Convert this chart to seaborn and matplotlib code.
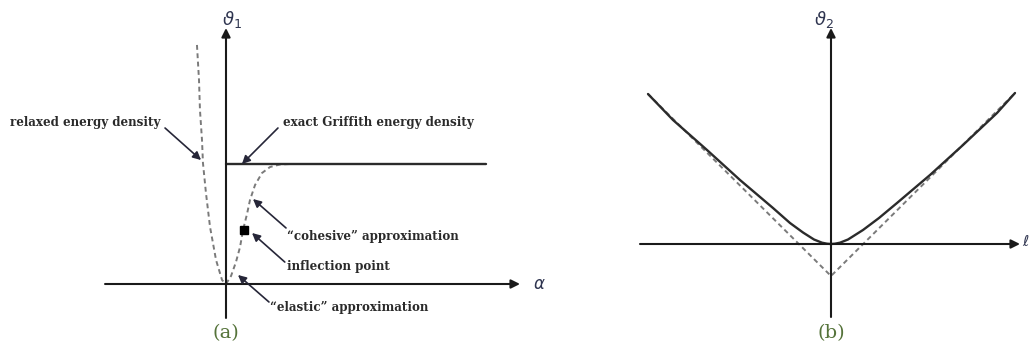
import numpy as np
import pandas as pd
import matplotlib
matplotlib.use("Agg")
import matplotlib.pyplot as plt
import seaborn as sns

# panel (a): energy densities vs alpha (units, Griffith level = 1)
relaxed_x = [-0.242, -0.225, -0.217, -0.200, -0.192, -0.167, -0.133, -0.083, -0.033, 0.0]
relaxed_y = [1.992, 1.700, 1.450, 1.200, 1.008, 0.758, 0.475, 0.200, 0.033, 0.0]
cohesive_x = [0.0, 0.042, 0.083, 0.117, 0.142, 0.175, 0.200, 0.242, 0.300, 0.367, 0.450, 0.533]
cohesive_y = [0.0, 0.067, 0.183, 0.308, 0.450, 0.583, 0.700, 0.825, 0.925, 0.975, 0.996, 1.0]
griffith_x = [0.0, 2.167]
griffith_y = [1.0, 1.0]
inflection = (0.15, 0.45)

# panel (b)
smooth_x = [-1.83, -1.58, -1.24, -0.91, -0.58, -0.41, -0.28, -0.17, -0.09, -0.04, 0.0,
            0.04, 0.09, 0.17, 0.32, 0.48, 0.66, 0.99, 1.32, 1.66, 1.84]
smooth_y = [1.50, 1.24, 0.94, 0.64, 0.36, 0.21, 0.115, 0.045, 0.013, 0.003, 0.0,
            0.003, 0.013, 0.045, 0.14, 0.26, 0.41, 0.69, 0.99, 1.31, 1.51]
vee_x = [-1.83, 0.0, 1.84]
vee_y = [1.50, -0.32, 1.51]

# annotations: text, text position, arrow start, arrow tip
notes = [
    ("relaxed energy density", (-1.80, 1.342), (-0.508, 1.30), (-0.208, 1.033)),
    ("exact Griffith energy density", (0.475, 1.342), (0.433, 1.30), (0.133, 1.0)),
    ("\u201ccohesive\u201d approximation", (0.508, 0.392), (0.50, 0.467), (0.225, 0.708)),
    ("inflection point", (0.508, 0.142), (0.49, 0.183), (0.217, 0.425)),
    ("\u201celastic\u201d approximation", (0.367, -0.20), (0.358, -0.15), (0.10, 0.075)),
]

sns.set_style("white")
W, H = 1029, 351
fig = plt.figure(figsize=(W / 100, H / 100), dpi=100)

ax_a = fig.add_axes([0, 0, 560 / W, 1])
ax_b = fig.add_axes([580 / W, 0, 449 / W, 1])

ax_a.set_xlim(-226 / 120, (560 - 226) / 120)
ax_a.set_ylim(-(H - 284) / 120, 284 / 120)
ax_b.set_xlim((580 - 831) / 100, (1029 - 831) / 100)
ax_b.set_ylim(-(H - 244) / 100, 244 / 100)

dash = dict(color="#7a7a7a", linewidth=1.4, linestyle=(0, (2.5, 1.8)))
solid = dict(color="#2b2b2b", linewidth=1.7)


def axis_arrow(ax, start, end):
    ax.annotate("", xy=end, xytext=start,
                arrowprops=dict(arrowstyle="-|>", color="#1a1a1a", lw=1.5,
                                mutation_scale=13, shrinkA=0, shrinkB=0))


# ---- panel (a)
axis_arrow(ax_a, (-1.008, 0), (2.45, 0))
axis_arrow(ax_a, (0, -0.283), (0, 2.133))
sns.lineplot(x=relaxed_x, y=relaxed_y, sort=False, estimator=None, ax=ax_a, **dash)
sns.lineplot(x=cohesive_x, y=cohesive_y, sort=False, estimator=None, ax=ax_a, **dash)
sns.lineplot(x=griffith_x, y=griffith_y, sort=False, estimator=None, ax=ax_a, **solid)
ax_a.plot(*inflection, marker="s", color="black", markersize=6, zorder=5)

for label, txt_pos, a_start, a_tip in notes:
    ax_a.text(txt_pos[0], txt_pos[1], label, family="DejaVu Serif", fontsize=8.6,
              fontweight="bold", color="#2a2a2a", ha="left", va="center")
    ax_a.annotate("", xy=a_tip, xytext=a_start,
                  arrowprops=dict(arrowstyle="-|>", color="#262638", lw=1.2,
                                  mutation_scale=12, shrinkA=0, shrinkB=0))

ax_a.text(-0.03, 2.2, r"$\vartheta_1$", fontsize=13, color="#2f3550", ha="left", va="center")
ax_a.text(2.56, 0.0, r"$\alpha$", fontsize=12, color="#2f3550", ha="left", va="center")

# ---- panel (b)
axis_arrow(ax_b, (-1.91, 0), (1.89, 0))
axis_arrow(ax_b, (0, -0.73), (0, 2.16))
sns.lineplot(x=vee_x, y=vee_y, sort=False, estimator=None, ax=ax_b, **dash)
sns.lineplot(x=smooth_x, y=smooth_y, sort=False, estimator=None, ax=ax_b, **solid)
ax_b.text(-0.17, 2.24, r"$\vartheta_2$", fontsize=13, color="#2f3550", ha="left", va="center")
ax_b.text(1.905, 0.02, r"$\ell$", fontsize=11, color="#2f3550", ha="left", va="center")

for ax in (ax_a, ax_b):
    ax.set_axis_off()

fig.text(226 / W, 1 - 333 / H, "(a)", family="DejaVu Serif", fontsize=14,
         color="#55733a", ha="center", va="center")
fig.text(831 / W, 1 - 333 / H, "(b)", family="DejaVu Serif", fontsize=14,
         color="#55733a", ha="center", va="center")

fig.savefig("out.png", dpi=100)
